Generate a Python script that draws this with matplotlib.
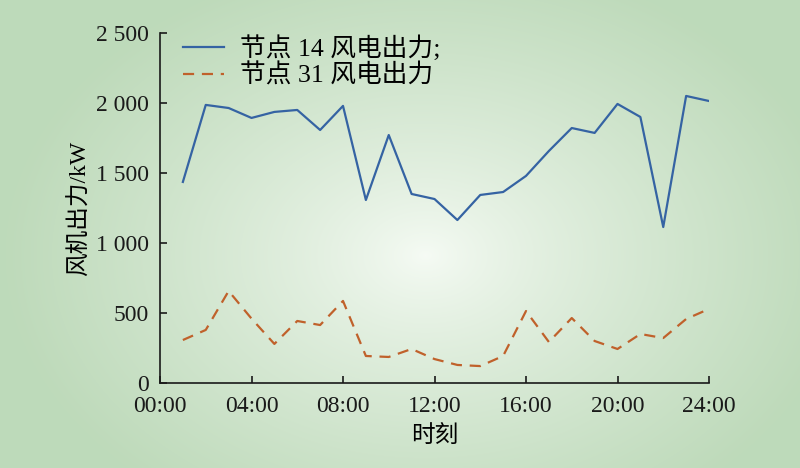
import numpy as np
import matplotlib
matplotlib.use("Agg")
import matplotlib.pyplot as plt
from matplotlib.ticker import FuncFormatter

plt.rcParams['font.family'] = ['Liberation Serif', 'Noto Sans CJK SC']

hours = list(range(1, 25))
node14 = [1436, 1986, 1964, 1893, 1936, 1950, 1807, 1979, 1307, 1771, 1350, 1314,
          1164, 1343, 1364, 1479, 1657, 1821, 1786, 1993, 1900, 1114, 2050, 2014]
node31 = [307, 379, 657, 460, 279, 443, 414, 586, 193, 186, 243, 171,
          129, 121, 193, 514, 293, 464, 300, 243, 350, 321, 457, 529]
x_ticks = [0, 4, 8, 12, 16, 20, 24]
x_labels = ['00:00', '04:00', '08:00', '12:00', '16:00', '20:00', '24:00']
y_ticks = [0, 500, 1000, 1500, 2000, 2500]

fig = plt.figure(figsize=(8, 4.68), dpi=100)

# radial gradient background
bg = fig.add_axes([0, 0, 1, 1], zorder=-10)
yy, xx = np.mgrid[0:468, 0:800]
r = np.sqrt(((xx - 425) / 420.0) ** 2 + ((yy - 255) / 300.0) ** 2)
t = np.clip(r, 0, 1) ** 0.8
c0 = np.array([0.965, 0.985, 0.96])
c1 = np.array([0.745, 0.855, 0.73])
img = c0 + (c1 - c0) * t[..., None]
bg.imshow(img, aspect='auto', extent=[0, 1, 0, 1])
bg.axis('off')

ax = fig.add_axes([0.2, 0.1816, 0.68625, 0.748])
ax.patch.set_alpha(0)
ax.plot(hours, node14, color='#3563a3', lw=1.6, label='节点 14 风电出力;')
ax.plot(hours, node31, color='#c0612b', lw=1.6, ls=(0, (5, 3.5)), label='节点 31 风电出力')

ax.set_xlim(0, 24)
ax.set_ylim(0, 2500)
ax.set_xticks(x_ticks)
ax.set_xticklabels(x_labels)
ax.set_yticks(y_ticks)
ax.yaxis.set_major_formatter(FuncFormatter(lambda v, p: f'{int(v):,}'.replace(',', ' ')))
ax.spines['top'].set_visible(False)
ax.spines['right'].set_visible(False)
for s in ['left', 'bottom']:
    ax.spines[s].set_linewidth(1.2)
    ax.spines[s].set_color('#1a1a1a')
ax.tick_params(direction='in', length=5, width=1.2, labelsize=17, colors='#1a1a1a')
ax.tick_params(axis='x', pad=9)
ax.tick_params(axis='y', pad=8)
ax.set_xlabel('时刻', fontsize=17, labelpad=7)
ax.set_ylabel('风机出力/kW', fontsize=17, labelpad=4)

leg = ax.legend(loc='upper left', bbox_to_anchor=(0.0, 1.06), frameon=False,
                fontsize=18.5, handlelength=1.6, handletextpad=0.6, labelspacing=0.12)

fig.savefig('out.png', dpi=100)
